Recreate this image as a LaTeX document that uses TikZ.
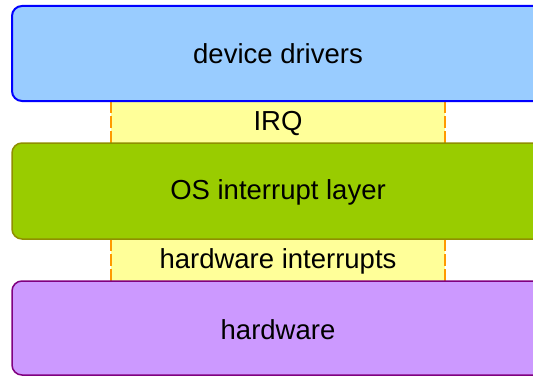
\documentclass[tikz,border=0pt]{standalone}
\usepackage{fontspec}
\setmainfont{Liberation Sans}
\definecolor{bluefill}{HTML}{99CCFF}
\definecolor{blueline}{HTML}{0000FF}
\definecolor{greenfill}{HTML}{99CC00}
\definecolor{greenline}{HTML}{8F8F00}
\definecolor{purplefill}{HTML}{CC99FF}
\definecolor{purpleline}{HTML}{800080}
\definecolor{stripfill}{HTML}{FFFF99}
\definecolor{dashcol}{HTML}{FF9900}
\tikzset{
  layer/.style={rectangle, rounded corners=10pt, minimum width=533pt, inner sep=0pt,
    font=\fontsize{27.5}{33}\selectfont},
  strip/.style={rectangle, fill=stripfill, minimum width=334pt, inner sep=0pt,
    font=\fontsize{27.5}{33}\selectfont},
  edge/.style={draw=dashcol, line width=2.2pt, dash pattern=on 12pt off 3pt}
}
\begin{document}
\begin{tikzpicture}[x=1pt,y=1pt]
\useasboundingbox (0,0) rectangle (533,376);
\clip (0,0) rectangle (533,376);
\node[strip, minimum height=42pt] (irq) at (278,254) {};
\node[strip, minimum height=42pt] (hwint) at (278,116) {};
\node[font=\fontsize{27.5}{33}\selectfont, inner sep=0pt] (irqtext) at (278,253) {IRQ};
\node[font=\fontsize{27.5}{33}\selectfont, inner sep=0pt] (hwinttext) at (278,115) {hardware interrupts};
\draw[edge] (irq.north west) -- (irq.south west);
\draw[edge] (irq.north east) -- (irq.south east);
\draw[edge] (hwint.north west) -- (hwint.south west);
\draw[edge] (hwint.north east) -- (hwint.south east);
\node[layer, fill=bluefill, draw=blueline, line width=2pt, minimum height=95pt] (drivers) at (278.5,322.5) {};
\node[layer, fill=greenfill, draw=greenline, line width=1.5pt, minimum height=96pt] (os) at (278.5,185) {};
\node[layer, fill=purplefill, draw=purpleline, line width=1.5pt, minimum height=94pt] (hw) at (278.5,48) {};
\node[font=\fontsize{27.5}{33}\selectfont, inner sep=0pt] (driverstext) at (278,322) {device drivers};
\node[font=\fontsize{27.5}{33}\selectfont, inner sep=0pt] (ostext) at (278,184) {OS interrupt layer};
\node[font=\fontsize{27.5}{33}\selectfont, inner sep=0pt] (hwtext) at (278,46) {hardware};
\end{tikzpicture}
\end{document}
